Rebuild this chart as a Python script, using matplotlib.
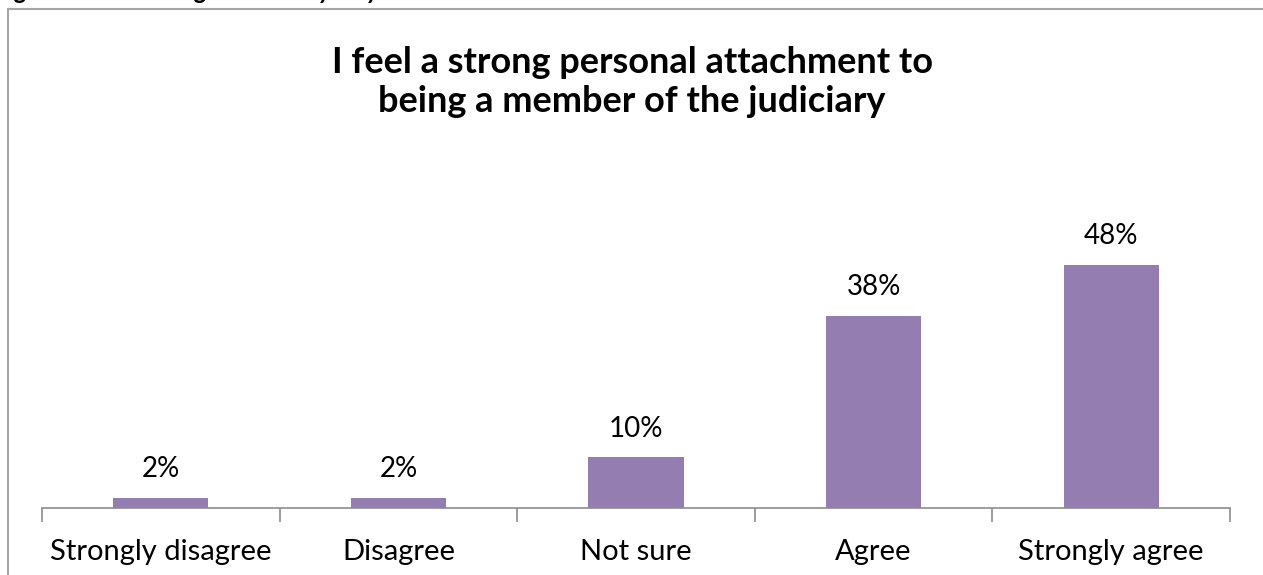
import matplotlib.pyplot as plt
from matplotlib.patches import Rectangle

# -- Survey data --------------------------------------------------------------
categories = ["Strongly disagree", "Disagree", "Not sure", "Agree", "Strongly agree"]
shares = [2, 2, 10, 38, 48]
share_labels = ["2%", "2%", "10%", "38%", "48%"]

title = "I feel a strong personal attachment to\nbeing a member of the judiciary"

bar_color = "#947DB1"
axis_color = "#8C8C8C"
font = "Lato"

# -- Figure ------------------------------------------------------------------
fig = plt.figure(figsize=(12.63, 5.75), dpi=100)

# chart frame (runs off the right and bottom edges)
fig.patches.append(Rectangle((8 / 1263, -0.1), 1.2, 1 - 9 / 575 + 0.1,
                             transform=fig.transFigure, fill=False,
                             edgecolor="#A6A6A6", linewidth=1.5))

# descenders of the caption line above the frame
for x, ch in [(15, "g"), (195, "g"), (318, "y"), (366, "y")]:
    fig.text(x / 1263, 1.001, ch, ha="left", va="baseline", fontsize=18,
             fontweight="bold", style="italic", family=font)

ax = fig.add_axes([42 / 1263, 67 / 575, 1188 / 1263, 303.6 / 575])
x = list(range(len(categories)))
bars = ax.bar(x, shares, width=0.4, color=bar_color)

for bar, lab in zip(bars, share_labels):
    ax.text(bar.get_x() + bar.get_width() / 2, bar.get_height() + 4.1, lab,
            ha="center", va="baseline", fontsize=20, family=font)

ax.set_xlim(-0.5, len(categories) - 0.5)
ax.set_ylim(0, 60)

for side in ["top", "right", "left"]:
    ax.spines[side].set_visible(False)
ax.spines["bottom"].set_color(axis_color)
ax.spines["bottom"].set_linewidth(1.2)

ax.set_yticks([])
ax.set_xticks([i - 0.5 for i in range(len(categories) + 1)], minor=False)
ax.set_xticklabels([])
ax.tick_params(axis="x", direction="out", length=10, width=1.2, color=axis_color)
ax.set_xticks(x, minor=True)
ax.set_xticklabels(categories, minor=True, fontsize=21, family=font)
ax.tick_params(axis="x", which="minor", length=0, pad=22)

fig.text(632 / 1263, 1 - 82 / 575, title, ha="center", va="center",
         fontsize=26, fontweight="bold", family=font, linespacing=1.22)

fig.savefig("out.png", dpi=100)
